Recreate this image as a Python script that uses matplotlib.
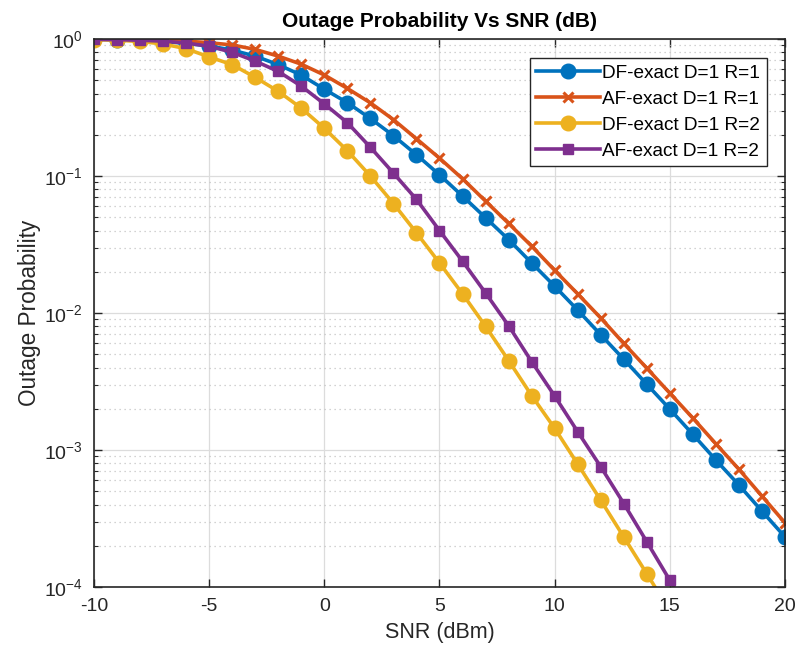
import numpy as np
import matplotlib.pyplot as plt
from matplotlib.ticker import LogLocator, NullFormatter, MultipleLocator

plt.rcParams['font.family'] = ['Liberation Sans', 'DejaVu Sans']
plt.rcParams['mathtext.default'] = 'regular'
plt.rcParams['axes.unicode_minus'] = False

# SNR axis (dB), one point per dB
snr = list(range(-10, 21))

# outage probability, single relay
df_r1 = [0.995, 0.99, 0.98, 0.96, 0.93, 0.89, 0.83, 0.75, 0.65, 0.545,
         0.43, 0.343, 0.263, 0.197, 0.143, 0.102, 0.0714, 0.0496, 0.0344, 0.0232,
         0.0157, 0.0105, 0.00694, 0.0046, 0.00302, 0.00199, 0.0013, 0.000845, 0.000555, 0.000358,
         0.000232]
af_r1 = [0.998, 0.995, 0.99, 0.98, 0.965, 0.94, 0.905, 0.84, 0.75, 0.655,
         0.546, 0.436, 0.342, 0.258, 0.187, 0.135, 0.0955, 0.0656, 0.0451, 0.0308,
         0.0205, 0.0138, 0.0092, 0.006, 0.00396, 0.0026, 0.00171, 0.00111, 0.000723, 0.000461,
         0.000294]

# outage probability, two relays (curves leave the axis near 15 dB)
snr_r2 = list(range(-10, 17))
df_r2 = [0.99, 0.98, 0.96, 0.92, 0.85, 0.74, 0.65, 0.525, 0.415, 0.313,
         0.223, 0.153, 0.1, 0.063, 0.0385, 0.0232, 0.0138, 0.008, 0.0045, 0.0025,
         0.00144, 0.00079, 0.00043, 0.000232, 0.000125, 6.7e-5, 3.6e-5]
af_r2 = [0.995, 0.99, 0.98, 0.965, 0.935, 0.885, 0.80, 0.69, 0.58, 0.453,
         0.336, 0.245, 0.162, 0.105, 0.0675, 0.040, 0.0239, 0.014, 0.00808, 0.00442,
         0.00248, 0.00136, 0.000755, 0.000407, 0.000214, 0.000112, 5.8e-5]

fig = plt.figure(figsize=(7.98, 6.57), dpi=100)
ax = fig.add_axes([0.1178, 0.1065, 0.8659, 0.8341])

ax.semilogy(snr, df_r1, '-o', color='#0072BD', lw=2.6, ms=10.5, label='DF-exact D=1 R=1')
ax.semilogy(snr, af_r1, '-x', color='#D95319', lw=2.6, ms=7, mew=2.2, label='AF-exact D=1 R=1')
ax.semilogy(snr_r2, df_r2, '-o', color='#EDB120', lw=2.6, ms=10.5, label='DF-exact D=1 R=2')
ax.semilogy(snr_r2, af_r2, '-s', color='#7E2F8E', lw=2.6, ms=7, label='AF-exact D=1 R=2')

ax.set_xlim(-10, 20)
ax.set_ylim(1e-4, 1)
ax.xaxis.set_major_locator(MultipleLocator(5))
ax.yaxis.set_major_locator(LogLocator(base=10, numticks=10))
ax.yaxis.set_minor_locator(LogLocator(base=10, subs=np.arange(2, 10), numticks=20))
ax.yaxis.set_minor_formatter(NullFormatter())

ax.grid(True, which='major', color='#dcdcdc', lw=0.9, ls='-')
ax.grid(True, which='minor', axis='y', color='#c4c4c4', lw=0.9, ls=(0, (1, 3)))
ax.set_axisbelow(True)

ax.tick_params(which='both', direction='in', top=True, right=True, colors='#262626')
ax.tick_params(which='major', length=6, width=1)
ax.tick_params(which='minor', length=3, width=0.8)
ax.tick_params(axis='x', pad=8, labelsize=14)
ax.tick_params(axis='y', pad=8, labelsize=14)
for sp in ax.spines.values():
    sp.set_color('#262626')
    sp.set_linewidth(1.2)

ax.set_title('Outage Probability Vs SNR (dB)', fontsize=15, fontweight='bold', pad=9)
ax.set_xlabel('SNR (dBm)', fontsize=15.5, color='#262626', labelpad=5)
ax.set_ylabel('Outage Probability', fontsize=16.3, color='#262626', labelpad=2)

leg = ax.legend(loc='upper right', bbox_to_anchor=(0.974, 0.9653), borderaxespad=0,
                prop={'size': 13.7}, fancybox=False, framealpha=1, edgecolor='#262626',
                handlelength=3.35, handletextpad=0.12, labelspacing=0.45, borderpad=0.35)
leg.get_frame().set_linewidth(1.0)

fig.savefig('out.png', dpi=100)
